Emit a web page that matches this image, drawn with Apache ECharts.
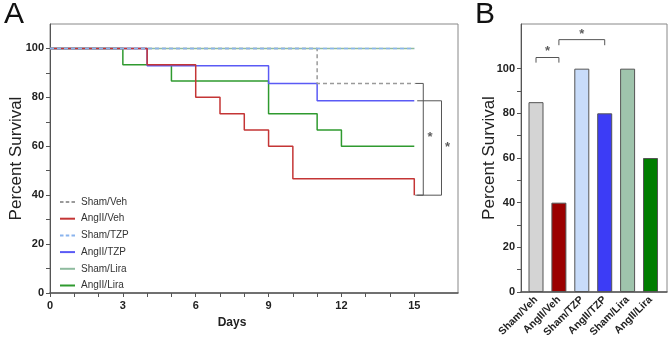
<!DOCTYPE html>
<html>
<head>
<meta charset="utf-8">
<script src="https://cdn.jsdelivr.net/npm/echarts@6/dist/echarts.min.js"></script>
<style>
  html, body { margin: 0; padding: 0; background: #fff; }
  #chart { width: 669px; height: 344px; }
</style>
</head>
<body>
<div id="chart"></div>
<script>
// 生存曲线数据（天数, 存活率）
const shamVeh = [[0, 100], [11, 85.7], [15, 85.7]];
const angVeh = [[0, 100], [4, 93.3], [6, 80], [7, 73.3], [8, 66.7], [9, 60], [10, 46.7], [15, 40]];
const shamTzp = [[0, 100], [15, 100]];
const angTzp = [[0, 100], [4, 92.9], [9, 85.7], [11, 78.6], [15, 78.6]];
const shamLira = [[0, 100], [15, 100]];
const angLira = [[0, 100], [3, 93.3], [5, 86.7], [9, 73.3], [11, 66.7], [12, 60], [15, 60]];

// 柱状图数据
const groups = ["Sham/Veh", "AngII/Veh", "Sham/TZP", "AngII/TZP", "Sham/Lira", "AngII/Lira"];
const finalSurvival = [85, 40, 100, 80, 100, 60];
const barColors = ["#d4d4d4", "#9b0000", "#c8dcfa", "#3c3cf6", "#9fc4ac", "#007d00"];

// 刻度
const dayLabels = [0, 3, 6, 9, 12, 15];
const dayTicks = [0, 1, 2, 3, 4, 5, 6, 7, 8, 9, 10, 11, 12, 13, 14, 15];
const pctLabels = [0, 20, 40, 60, 80, 100];
const pctTicks = [0, 10, 20, 30, 40, 50, 60, 70, 80, 90, 100];

// 显著性标记
const bracketA1 = [[15.04, 85.7], [15.37, 85.7], [15.37, 40], [15.04, 40]];
const bracketA2 = [[15.12, 78.6], [16.12, 78.6], [16.12, 40], [15.12, 40]];
const bracketB1 = [[0, 102.7], [0, 105], [1, 105], [1, 102.7]];
const bracketB2 = [[1, 110.5], [1, 113], [3, 113], [3, 110.5]];
const starsA = [[15.65, 63.5], [16.37, 59.5]];
const starsB = [[0.5, 107.5], [2, 115.5]];

const font = "Arial, 'Liberation Sans', sans-serif";
const axisGray = "#555";
const solidIcon = "path://M0,0h15v2h-15z";
const dashIcon = "path://M0,0h3.5v2h-3.5zM5.75,0h3.5v2h-3.5zM11.5,0h3.5v2h-3.5z";

const chart = echarts.init(document.getElementById("chart"));

function kmLine(name, data, color, dashed) {
  return {
    name: name,
    type: "line",
    step: "end",
    data: data,
    symbol: "none",
    xAxisIndex: 0,
    yAxisIndex: 0,
    lineStyle: { color: color, width: 1.5, type: dashed ? [4, 3] : "solid" },
    itemStyle: { color: color },
    silent: true,
    z: 3,
  };
}

function bracket(data, xi, yi) {
  return {
    type: "line",
    data: data,
    symbol: "none",
    xAxisIndex: xi,
    yAxisIndex: yi,
    lineStyle: { color: "#555", width: 1 },
    silent: true,
    z: 2,
  };
}

function stars(data, xi, yi) {
  return {
    type: "scatter",
    data: data,
    symbolSize: 0,
    xAxisIndex: xi,
    yAxisIndex: yi,
    silent: true,
    label: {
      show: true,
      formatter: "*",
      position: "inside",
      color: "#333",
      fontSize: 13,
      fontWeight: "bold",
      fontFamily: font,
    },
  };
}

const option = {
  animation: false,
  textStyle: { fontFamily: font },
  graphic: [
    { type: "text", left: 4, top: 0, style: { text: "A", fontSize: 30, fontFamily: font, fill: "#111" } },
    { type: "text", left: 475, top: 0, style: { text: "B", fontSize: 30, fontFamily: font, fill: "#111" } },
  ],
  legend: {
    orient: "vertical",
    left: 55,
    top: 191,
    itemWidth: 15,
    itemHeight: 2,
    itemGap: 4.7,
    data: [
      { name: "Sham/Veh", icon: dashIcon },
      { name: "AngII/Veh", icon: solidIcon },
      { name: "Sham/TZP", icon: dashIcon },
      { name: "AngII/TZP", icon: solidIcon },
      { name: "Sham/Lira", icon: solidIcon },
      { name: "AngII/Lira", icon: solidIcon },
    ],
    textStyle: { fontSize: 10, lineHeight: 12, color: "#333", fontFamily: font, padding: [0, 0, 0, 1] },
  },
  grid: [
    { left: 50, top: 24, right: 211, bottom: 51, show: true, borderColor: "#888", borderWidth: 1, outerBoundsMode: "none", containLabel: false },
    { left: 521, top: 24, right: 2, bottom: 52, show: true, borderColor: "#888", borderWidth: 1, outerBoundsMode: "none", containLabel: false },
  ],
  xAxis: [
    {
      gridIndex: 0,
      type: "value",
      min: 0,
      max: 16.8,
      name: "Days",
      nameLocation: "middle",
      nameGap: 24,
      nameMoveOverlap: false,
      nameTextStyle: { fontSize: 12, fontWeight: "bold", color: "#222", padding: [0, 44, 0, 0] },
      splitLine: { show: false },
      axisLine: { lineStyle: { color: axisGray, width: 1.5 } },
      axisTick: { customValues: dayTicks, length: 4, lineStyle: { color: axisGray } },
      axisLabel: { customValues: dayLabels, fontSize: 11, fontWeight: "bold", color: "#222", margin: 7 },
    },
    {
      gridIndex: 1,
      type: "value",
      min: -0.655,
      max: 5.72,
      splitLine: { show: false },
      axisLine: { onZero: false, lineStyle: { color: axisGray, width: 1.5 } },
      axisTick: { show: false },
      axisLabel: {
        customValues: [0, 1, 2, 3, 4, 5],
        formatter: (v) => groups[Math.round(v)],
        rotate: 45,
        fontSize: 10.5,
        fontWeight: "bold",
        color: "#222",
        margin: 6,
      },
    },
  ],
  yAxis: [
    {
      gridIndex: 0,
      type: "value",
      min: 0,
      max: 110,
      name: "Percent Survival",
      nameLocation: "middle",
      nameGap: 25,
      nameMoveOverlap: false,
      nameTextStyle: { fontSize: 17, color: "#222" },
      splitLine: { show: false },
      axisLine: { show: true, onZero: false, lineStyle: { color: axisGray, width: 1 } },
      axisTick: { customValues: pctTicks, length: 4, lineStyle: { color: axisGray } },
      axisLabel: { customValues: pctLabels, fontSize: 11, fontWeight: "bold", color: "#222", margin: 6 },
    },
    {
      gridIndex: 1,
      type: "value",
      min: 0,
      max: 120,
      name: "Percent Survival",
      nameLocation: "middle",
      nameGap: 23,
      nameMoveOverlap: false,
      nameTextStyle: { fontSize: 17, color: "#222" },
      splitLine: { show: false },
      axisLine: { show: true, onZero: false, lineStyle: { color: axisGray, width: 1 } },
      axisTick: { customValues: pctTicks, length: 4, lineStyle: { color: axisGray } },
      axisLabel: { customValues: pctLabels, fontSize: 11, fontWeight: "bold", color: "#222", margin: 6 },
    },
  ],
  series: [
    kmLine("Sham/Lira", shamLira, "#8fbb9f", false),
    kmLine("AngII/Lira", angLira, "#2f9a2f", false),
    kmLine("AngII/TZP", angTzp, "#5a5af5", false),
    kmLine("AngII/Veh", angVeh, "#c43535", false),
    kmLine("Sham/Veh", shamVeh, "#9a9a9a", true),
    kmLine("Sham/TZP", shamTzp, "#8ab4ee", true),
    bracket(bracketA1, 0, 0),
    bracket(bracketA2, 0, 0),
    stars(starsA, 0, 0),
    {
      type: "bar",
      xAxisIndex: 1,
      yAxisIndex: 1,
      barWidth: 15,
      silent: true,
      data: finalSurvival.map((v, i) => ({
        value: [i, v],
        itemStyle: { color: barColors[i], borderColor: "#555", borderWidth: 1 },
      })),
    },
    bracket(bracketB1, 1, 1),
    bracket(bracketB2, 1, 1),
    stars(starsB, 1, 1),
  ],
};

chart.setOption(option);
</script>
</body>
</html>
